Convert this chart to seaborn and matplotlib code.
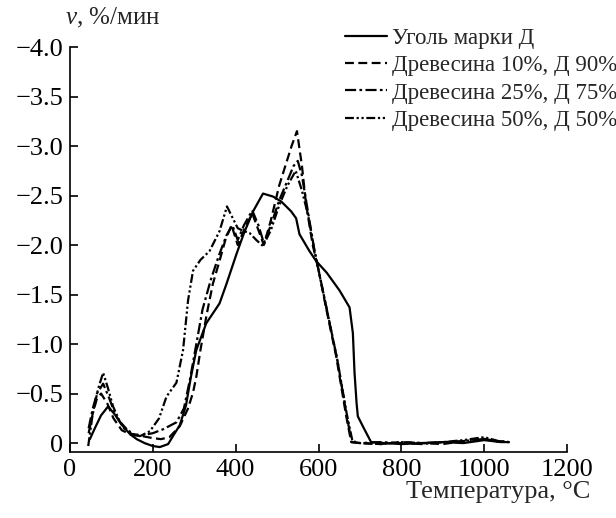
import matplotlib
matplotlib.use("Agg")
import matplotlib.pyplot as plt
import seaborn as sns
import numpy as np
from matplotlib.ticker import FuncFormatter

# ---- data ----
coal_x = [48, 60, 75, 92, 110, 128, 145, 161, 180, 200, 217, 237, 250, 265, 280, 292, 305,
          329, 361, 378, 402, 420, 442, 466, 490, 510, 534, 546, 554, 578, 594, 620, 651,
          675, 683, 687, 692, 695, 707, 727, 760, 800, 850, 900, 950, 1000, 1040, 1060]
coal_y = [-0.04, -0.15, -0.28, -0.37, -0.28, -0.17, -0.09, -0.04, 0.00, 0.03, 0.04, 0.01,
          -0.08, -0.18, -0.38, -0.67, -0.94, -1.21, -1.41, -1.61, -1.91, -2.12, -2.34, -2.52,
          -2.49, -2.44, -2.34, -2.27, -2.11, -1.94, -1.84, -1.72, -1.54, -1.37, -1.11, -0.71,
          -0.40, -0.27, -0.17, -0.01, 0.00, 0.01, 0.00, -0.01, 0.00, -0.03, -0.01, -0.01]

w10_x = [45, 55, 65, 75, 90, 105, 125, 150, 175, 200, 220, 240, 265, 285, 297, 305, 315,
         330, 345, 361, 375, 390, 405, 420, 440, 455, 468, 485, 505, 520, 535, 548, 560,
         570, 586, 600, 618, 643, 667, 679, 700, 750, 800, 850, 900, 950, 990, 1030, 1060]
w10_y = [-0.10, -0.30, -0.45, -0.50, -0.40, -0.25, -0.13, -0.08, -0.07, -0.05, -0.04,
         -0.06, -0.17, -0.35, -0.51, -0.67, -0.94, -1.30, -1.61, -1.84, -2.05, -2.20, -2.00,
         -2.15, -2.32, -2.15, -2.00, -2.25, -2.60, -2.80, -3.00, -3.15, -2.80, -2.41, -2.00,
         -1.75, -1.37, -0.87, -0.27, -0.01, 0.00, 0.01, -0.01, 0.00, 0.01, -0.02, -0.05,
         -0.02, -0.01]

w25_x = [45, 55, 65, 80, 95, 110, 130, 150, 175, 200, 225, 257, 275, 290, 305, 320, 340,
         360, 378, 392, 405, 420, 440, 455, 468, 485, 505, 525, 540, 550, 560, 572, 590,
         620, 645, 668, 680, 700, 750, 800, 850, 900, 950, 995, 1030, 1060]
w25_y = [-0.15, -0.35, -0.50, -0.60, -0.45, -0.28, -0.15, -0.09, -0.08, -0.10, -0.14,
         -0.21, -0.35, -0.65, -1.00, -1.35, -1.65, -1.90, -2.10, -2.20, -2.05, -2.20, -2.35,
         -2.20, -2.02, -2.20, -2.45, -2.65, -2.80, -2.85, -2.70, -2.40, -1.95, -1.35, -0.85,
         -0.28, -0.01, 0.00, -0.01, 0.00, 0.01, -0.01, -0.02, -0.04, -0.02, -0.01]

w50_x = [44, 55, 68, 80, 92, 104, 120, 137, 153, 169, 193, 215, 233, 257, 273, 285, 297,
         315, 337, 361, 379, 392, 405, 420, 434, 450, 466, 485, 505, 525, 545, 560, 575,
         590, 620, 645, 668, 682, 700, 750, 800, 850, 900, 950, 1000, 1035, 1060]
w50_y = [0.03, -0.30, -0.55, -0.71, -0.55, -0.37, -0.22, -0.14, -0.09, -0.07, -0.12,
         -0.25, -0.47, -0.61, -0.94, -1.44, -1.74, -1.85, -1.94, -2.14, -2.39, -2.28, -2.17,
         -2.14, -2.12, -2.05, -1.99, -2.15, -2.40, -2.60, -2.75, -2.55, -2.30, -1.95, -1.35,
         -0.85, -0.30, -0.02, 0.00, 0.01, -0.01, 0.00, -0.01, -0.03, -0.06, -0.02, -0.01]

labels = ["Уголь марки Д", "Древесина 10%, Д 90%", "Древесина 25%, Д 75%", "Древесина 50%, Д 50%"]
x_ticks = [0, 200, 400, 600, 800, 1000, 1200]
y_ticks = [0, -0.5, -1.0, -1.5, -2.0, -2.5, -3.0, -3.5, -4.0]

# ---- style ----
sns.set_theme(style="ticks")
plt.rcParams["font.family"] = ["Liberation Serif", "DejaVu Serif"]
plt.rcParams["mathtext.fontset"] = "custom"
plt.rcParams["mathtext.it"] = "Liberation Serif:italic"
plt.rcParams["mathtext.rm"] = "Liberation Serif"

fig = plt.figure(figsize=(6.16, 5.18), dpi=100)
ax = fig.add_axes([70 / 616, 1 - 452 / 518, (567 - 70) / 616, (452 - 47) / 518])

styles = ["-", (0, (4, 2)), (0, (5, 1.5, 1.2, 1.5)), (0, (4, 1.2, 1, 1.2, 1, 1.2))]
series = [(coal_x, coal_y), (w10_x, w10_y), (w25_x, w25_y), (w50_x, w50_y)]
for (xs, ys), lab, ls in zip(series, labels, styles):
    sns.lineplot(x=xs, y=ys, ax=ax, color="black", linewidth=1.6, linestyle=ls,
                 label=lab, sort=False, estimator=None)

ax.set_xlim(0, 1200)
ax.set_ylim(0.09, -4.0)
ax.set_xticks(x_ticks)
ax.set_yticks(y_ticks)
ax.yaxis.set_major_formatter(FuncFormatter(lambda v, p: "0" if abs(v) < 1e-9 else "\u2212%.1f" % abs(v)))
for s in ["top", "right"]:
    ax.spines[s].set_visible(False)
for s in ["left", "bottom"]:
    ax.spines[s].set_linewidth(1.2)
    ax.spines[s].set_color("black")
ax.tick_params(direction="in", length=6, width=1.2, labelsize=19, colors="black", pad=5)
ax.set_xlabel("")
ax.set_ylabel("")

fig.text(65 / 616, 1 - 18 / 518, "$v$, %/мин", fontsize=18, ha="left", va="center")
fig.text(590 / 616, 1 - 492 / 518, "Температура, °C", fontsize=19, ha="right", va="center")

leg = ax.legend(loc="upper left", bbox_to_anchor=(345 / 616, 1 - 28 / 518),
                bbox_transform=fig.transFigure, frameon=False, fontsize=16.5,
                handlelength=1.85, handletextpad=0.2, labelspacing=0.27, borderaxespad=0,
                borderpad=0)
for h in leg.get_lines():
    h.set_linewidth(1.6)

fig.savefig("out.png", dpi=100)
